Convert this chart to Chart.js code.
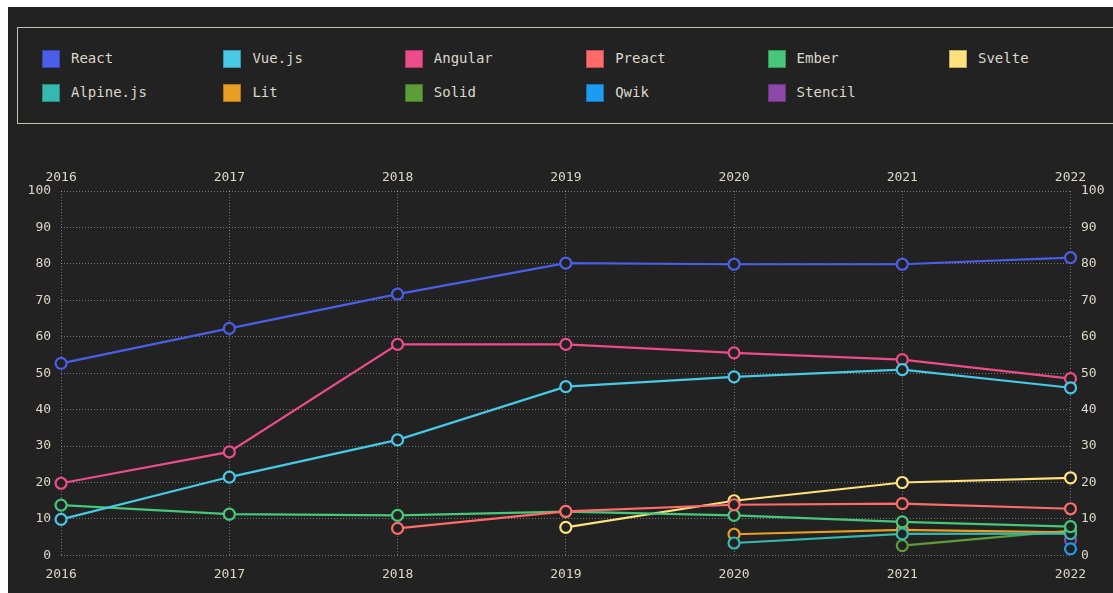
<!DOCTYPE html>
<html>
<head>
<meta charset="utf-8">
<script src="https://cdn.jsdelivr.net/npm/chart.js@4/dist/chart.umd.min.js"></script>
<style>
  html, body { margin: 0; padding: 0; background: #ffffff; overflow: hidden; width: 1113px; height: 593px; }
  #wrap { position: absolute; left: 8px; top: 7px; width: 1130px; height: 600px; background: #222222; }
  #legend { position: absolute; left: 9px; top: 20px; width: 1120px; height: 97px; border: 1px solid #c5c1b0; box-sizing: border-box; }
  .item { position: absolute; height: 18px; font: 14px "DejaVu Sans Mono", monospace; color: #dcd8ca; line-height: 18px; white-space: nowrap; }
  .sw { position: absolute; left: 0; top: 0; width: 18px; height: 18px; box-sizing: border-box; border: 1px solid rgba(0,0,0,0.25); }
  .lbl { position: absolute; left: 29px; top: -1px; }
  #cv { position: absolute; left: 0; top: 133px; width: 1116px; height: 460px; }
</style>
</head>
<body>
<div id="wrap">
  <div id="legend"></div>
  <div id="cv"><canvas id="chart"></canvas></div>
</div>
<script>
const years = ['2016', '2017', '2018', '2019', '2020', '2021', '2022'];
const yTicks = [0, 10, 20, 30, 40, 50, 60, 70, 80, 90, 100];

const seriesNames = ['React', 'Vue.js', 'Angular', 'Preact', 'Ember', 'Svelte', 'Alpine.js', 'Lit', 'Solid', 'Qwik', 'Stencil'];
const seriesColors = ['#4b5ee8', '#48c9e6', '#ec4d89', '#ff6b6b', '#46c77a', '#ffe17e', '#36b8af', '#e89e22', '#5a9d39', '#1c9bf0', '#8b48a8'];

const react   = [52.7, 62.3, 71.7, 80.2, 79.9, 79.9, 81.7];
const vue     = [9.9, 21.5, 31.7, 46.3, 49.0, 51.0, 46.0];
const angular = [19.8, 28.4, 57.9, 57.9, 55.6, 53.7, 48.5];
const preact  = [null, null, 7.4, 12.1, 13.9, 14.2, 12.8];
const ember   = [13.8, 11.3, 11.0, 12.0, 11.0, 9.2, 7.9];
const svelte  = [null, null, null, 7.7, 15.0, 20.0, 21.3];
const alpine  = [null, null, null, null, 3.4, 5.9, 6.0];
const lit     = [null, null, null, null, 5.8, 7.0, 6.3];
const solid   = [null, null, null, null, null, 2.7, 6.8];
const qwik    = [null, null, null, null, null, null, 1.8];
const stencil = [null, null, null, null, null, null, 4.2];

const seriesData = [react, vue, angular, preact, ember, svelte, alpine, lit, solid, qwik, stencil];

// HTML legend built from the series arrays
const legend = document.getElementById('legend');
seriesNames.forEach((name, i) => {
  const col = i % 6, row = Math.floor(i / 6);
  const it = document.createElement('div');
  it.className = 'item';
  it.style.left = (24 + col * 181.4) + 'px';
  it.style.top = (22 + row * 34) + 'px';
  const sw = document.createElement('div');
  sw.className = 'sw';
  sw.style.background = seriesColors[i];
  const lb = document.createElement('span');
  lb.className = 'lbl';
  lb.textContent = name;
  it.appendChild(sw); it.appendChild(lb);
  legend.appendChild(it);
});

const tickColor = '#dcd8ca';
const gridColor = 'rgba(255,255,255,0.38)';
const tickFont = { family: '"DejaVu Sans Mono", monospace', size: 13 };

const datasets = seriesNames.map((name, i) => ({
  label: name,
  data: seriesData[i],
  borderColor: seriesColors[i],
  backgroundColor: '#222222',
  pointBorderColor: seriesColors[i],
  pointBackgroundColor: '#222222',
  borderWidth: 2.2,
  pointRadius: 5.5,
  pointBorderWidth: 2.2,
  pointHoverRadius: 5.5,
  tension: 0,
  xAxisID: 'x',
  yAxisID: 'y'
}));

new Chart(document.getElementById('chart'), {
  type: 'line',
  data: { labels: years, datasets },
  options: {
    responsive: true,
    maintainAspectRatio: false,
    animation: false,
    layout: { padding: { left: 9.6, right: 9, top: 23.4, bottom: 7 } },
    plugins: { legend: { display: false }, tooltip: { enabled: false } },
    scales: {
      x: {
        position: 'bottom',
        offset: false,
        border: { display: false, dash: [1, 2] },
        grid: { color: gridColor, lineWidth: 1, drawTicks: false },
        ticks: { color: tickColor, font: tickFont, padding: 11, maxRotation: 0 }
      },
      xTop: {
        position: 'top',
        type: 'category',
        labels: years,
        offset: false,
        border: { display: false },
        grid: { display: false, drawTicks: false },
        ticks: { color: tickColor, font: tickFont, padding: 6, maxRotation: 0 }
      },
      y: {
        position: 'left',
        min: 0, max: 100,
        afterBuildTicks: (ax) => { ax.ticks = yTicks.map(v => ({ value: v })); },
        border: { display: false, dash: [1, 2] },
        grid: { color: gridColor, lineWidth: 1, drawTicks: false },
        ticks: { color: tickColor, font: tickFont, padding: 10 }
      },
      yRight: {
        position: 'right',
        min: 0, max: 100,
        afterBuildTicks: (ax) => { ax.ticks = yTicks.map(v => ({ value: v })); },
        border: { display: false },
        grid: { display: false, drawTicks: false },
        ticks: { color: tickColor, font: tickFont, padding: 10.5 }
      }
    }
  }
});
</script>
</body>
</html>
